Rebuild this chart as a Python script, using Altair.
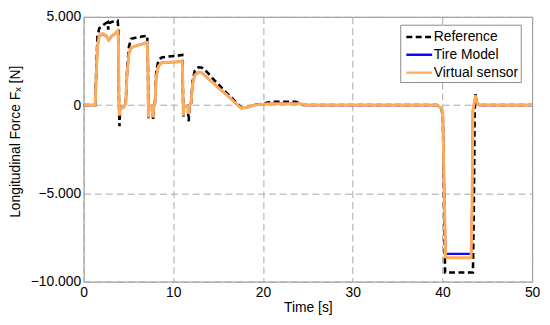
import altair as alt
import pandas as pd

# ---- data ----
t_ref = [0, 1.30, 1.40, 1.55, 1.75, 2.10, 2.50, 2.70, 2.75, 2.85, 3.20, 3.80, 3.88, 3.95, 4.00, 4.08,
         4.40, 4.70, 4.85, 5.05, 5.30, 5.80, 6.50, 7.10, 7.18, 7.22, 7.30, 7.65, 7.75, 7.82, 7.95,
         8.10, 8.35, 8.70, 9.50, 10.50, 11.00, 11.05, 11.12, 11.20, 11.60, 11.72, 11.80, 11.98,
         12.15, 12.40, 12.80, 13.20, 13.80, 14.50, 15.20, 15.90, 16.40, 17.00, 17.60, 18.20, 19.00,
         20.00, 21.00, 23.70, 24.50, 39.40, 39.90, 40.05, 40.20, 40.30, 43.40, 43.50, 43.60, 43.70,
         43.80, 44.10, 50.0]
f_ref = [0, 0, 1800, 3900, 4350, 4500, 4650, 4700, 4270, 4650, 4720, 4780, 4300, 0, -1200, -150,
         -150, 100, 2000, 3300, 3750, 3820, 3880, 3930, 2200, -740, -100, -50, -780, -50, 100,
         1900, 2550, 2700, 2750, 2800, 2840, 1600, -650, -100, -50, -920, -50, 100,
         1350, 1950, 2140, 2120, 1850, 1450, 1080, 700, 470, 150, -150, -120, 0,
         80, 190, 190, 0, 0, -200, -700, -6000, -9490, -9490, -6000, -300, 620,
         200, 0, 0]

t_vs = [0, 1.30, 1.40, 1.55, 1.75, 2.10, 2.50, 2.80, 3.10, 3.50, 3.80, 3.88, 3.95, 4.00, 4.08,
        4.40, 4.55, 4.70, 4.85, 5.05, 5.30, 5.80, 6.50, 7.10, 7.18, 7.22, 7.30, 7.65, 7.75, 7.82,
        7.95, 8.10, 8.35, 8.70, 9.50, 10.50, 11.00, 11.05, 11.12, 11.20, 11.60, 11.72, 11.80,
        11.98, 12.15, 12.40, 12.80, 13.20, 13.80, 14.50, 15.20, 15.90, 16.40, 17.00, 17.60, 18.20,
        19.00, 20.00, 21.00, 24.00, 25.00, 39.40, 39.90, 40.05, 40.20, 40.35, 40.60, 43.20, 43.30,
        43.40, 43.70, 43.80, 44.10, 50.0]
f_vs = [0, 0, 1500, 3300, 3950, 4050, 3950, 3700, 3900, 4050, 4200, 3800, 0, -600, -150,
        -150, -50, 100, 1800, 2900, 3250, 3350, 3450, 3550, 2000, -700, -100, -50, -700, -50,
        100, 1600, 2200, 2400, 2420, 2450, 2480, 1500, -600, -100, -50, -500, -50,
        100, 1200, 1700, 1850, 1820, 1550, 1230, 900, 600, 370, 80, -180, -130,
        0, 50, 80, 80, 0, 0, -180, -600, -5000, -8600, -8650, -8650, -6000,
        -300, 550, 200, 0, 0]
f_tm = [0, 0, 1500, 3300, 3930, 4020, 3920, 3670, 3880, 4030, 4180, 3800, 0, -600, -150,
        -150, -50, 100, 1800, 2900, 3250, 3350, 3450, 3550, 2000, -700, -100, -50, -700, -50,
        100, 1600, 2200, 2400, 2420, 2450, 2480, 1500, -600, -100, -50, -500, -50,
        100, 1200, 1700, 1850, 1820, 1550, 1230, 900, 600, 370, 80, -180, -130,
        0, 50, 80, 80, 0, 0, -180, -600, -5000, -8450, -8430, -8430, -6000,
        -300, 550, 200, 0, 0]

series = ["Reference", "Tire Model", "Virtual sensor"]
colors = ["#000000", "#0a0aff", "#ffab57"]
dashes = [[6, 3.5], [1, 0], [1, 0]]

df = pd.concat([
    pd.DataFrame({"t": t_ref, "f": f_ref, "s": "Reference", "o": range(len(t_ref))}),
    pd.DataFrame({"t": t_vs, "f": f_tm, "s": "Tire Model", "o": range(len(t_vs))}),
    pd.DataFrame({"t": t_vs, "f": f_vs, "s": "Virtual sensor", "o": range(len(t_vs))}),
])

FONT = "Liberation Sans"

x = alt.X("t:Q", title="Time [s]",
          scale=alt.Scale(domain=[0, 50], nice=False, zero=False),
          axis=alt.Axis(values=[0, 10, 20, 30, 40, 50], ticks=False, domain=False,
                        labelFlush=False,
                        labelPadding=4, labelFontSize=14, labelColor="#000",
                        titleFontSize=14, titleFontWeight="normal", titleColor="#000",
                        titleY=30, titleBaseline="alphabetic",
                        grid=True, gridDash=[7, 4], gridColor="#a8a8a8", gridWidth=1))
y = alt.Y("f:Q", title="Longitudinal Force Fₓ [N]",
          scale=alt.Scale(domain=[-10000, 5000], nice=False, zero=False),
          axis=alt.Axis(values=[-10000, -5000, 0, 5000], ticks=False, domain=False,
                        labelFlush=False,
                        labelPadding=3, labelFontSize=14, labelColor="#000",
                        labelExpr="replace(format(datum.value, ','), ',', '.')",
                        titleFontSize=14, titleFontWeight="normal", titleColor="#000",
                        titleAngle=270, titleX=-65, titleY=126, titleBaseline="alphabetic",
                        titleAlign="center",
                        grid=True, gridDash=[7, 4], gridColor="#a8a8a8", gridWidth=1))

legend_kw = dict(orient="none", legendX=320.5, legendY=8,
                 strokeColor="#8a8a8a", fillColor="white", padding=2,
                 labelFontSize=14, labelFont=FONT, labelColor="#000",
                 labelOffset=11, rowPadding=0,
                 symbolType="M-0.7,0L2.2,0", symbolSize=324,
                 symbolStrokeWidth=2.5, symbolFillColor="transparent")

color = alt.Color("s:N", title=None,
                  scale=alt.Scale(domain=series, range=colors),
                  legend=alt.Legend(**legend_kw))
dash = alt.StrokeDash("s:N", title=None,
                      scale=alt.Scale(domain=series, range=dashes),
                      legend=alt.Legend(**legend_kw))

widths = {"Reference": 2.6, "Tire Model": 2.2, "Virtual sensor": 3}
layers = []
for s in series:
    layers.append(
        alt.Chart(df).transform_filter(alt.datum.s == s)
        .mark_line(strokeWidth=widths[s], strokeJoin="miter", clip=True)
        .encode(x=x, y=y, color=color, strokeDash=dash, order="o:Q")
    )

chart = alt.layer(*layers).properties(
    width=454, height=268,
    autosize="none",
    padding={"left": 76.5, "top": 7, "right": 10, "bottom": 40},
).configure(font=FONT).configure_view(
    stroke="#8a8a8a", strokeWidth=1
)

chart.save("out.html", embed_options={"renderer": "svg", "actions": False})
